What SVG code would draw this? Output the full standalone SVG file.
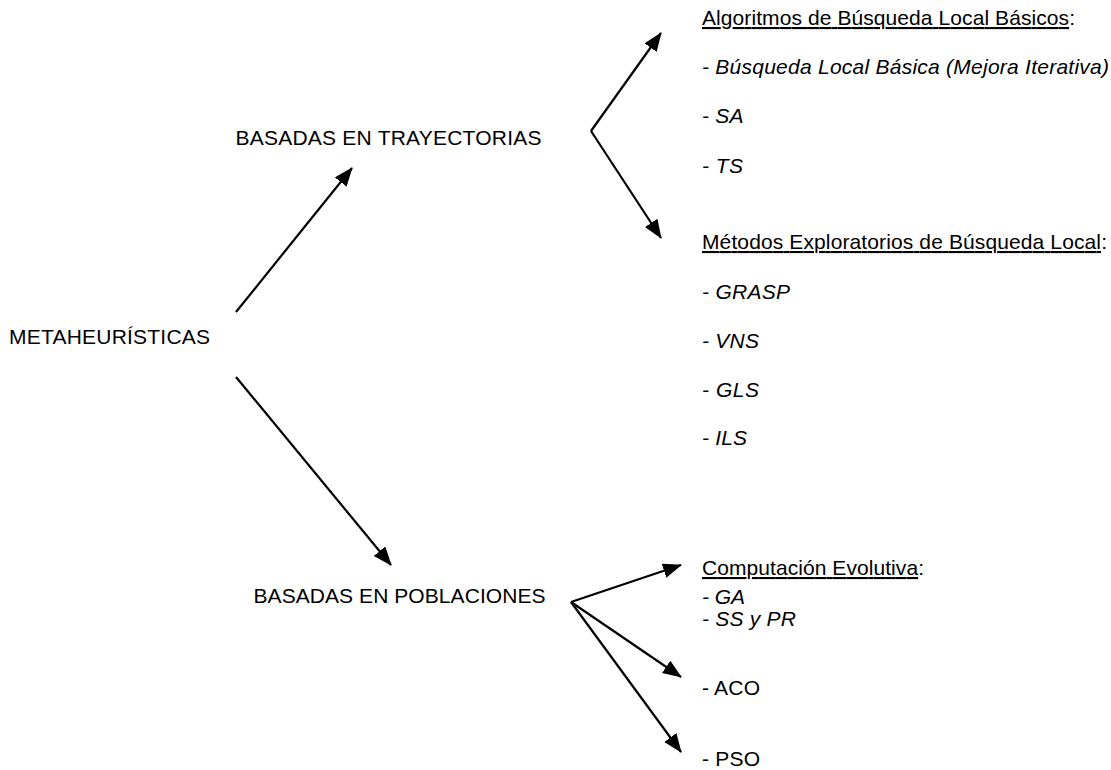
<svg xmlns="http://www.w3.org/2000/svg" width="1111" height="770" viewBox="0 0 1111 770">
<style>
text{font-family:"Liberation Sans",Arial,sans-serif;font-size:21px;fill:#000}
.i{font-style:italic}
.u{text-decoration:underline}
.c{stroke:#000;stroke-width:2.2;fill:none;marker-end:url(#ah)}
</style>
<defs>
<marker id="ah" markerUnits="userSpaceOnUse" markerWidth="20" markerHeight="16" refX="18" refY="7.5" orient="auto">
<path d="M0,0 L19,7.5 L0,15 z" fill="#000"/>
</marker>
</defs>
<rect width="1111" height="770" fill="#fff"/>
<g id="connectors">
<line class="c" x1="236" y1="312" x2="352" y2="168"/>
<line class="c" x1="236" y1="377" x2="391" y2="565"/>
<line class="c" x1="591" y1="131" x2="661" y2="33"/>
<line class="c" x1="591" y1="131" x2="661" y2="238"/>
<line class="c" x1="571" y1="602" x2="681" y2="565"/>
<line class="c" x1="571" y1="602" x2="681" y2="677"/>
<line class="c" x1="571" y1="602" x2="681" y2="752"/>
</g>
<g id="metaheuristicas"><text x="9" y="344" textLength="201" lengthAdjust="spacing">METAHEURÍSTICAS</text></g>
<g id="trayectorias"><text x="235.5" y="145" textLength="306" lengthAdjust="spacing">BASADAS EN TRAYECTORIAS</text></g>
<g id="poblaciones"><text x="253.5" y="603" textLength="292" lengthAdjust="spacing">BASADAS EN POBLACIONES</text></g>
<g id="busqueda-local-basicos">
<text x="702" y="25" textLength="373" lengthAdjust="spacing"><tspan class="u">Algoritmos de Búsqueda Local Básicos</tspan>:</text>
<text class="i" x="702" y="74" textLength="407" lengthAdjust="spacing">- Búsqueda Local Básica (Mejora Iterativa)</text>
<text class="i" x="702" y="123" textLength="41.5" lengthAdjust="spacing">- SA</text>
<text class="i" x="702" y="173" textLength="41" lengthAdjust="spacing">- TS</text>
</g>
<g id="metodos-exploratorios">
<text x="702" y="249" textLength="405" lengthAdjust="spacing"><tspan class="u">Métodos Exploratorios de Búsqueda Local</tspan>:</text>
<text class="i" x="702" y="299" textLength="88" lengthAdjust="spacing">- GRASP</text>
<text class="i" x="702" y="348" textLength="57" lengthAdjust="spacing">- VNS</text>
<text class="i" x="702" y="397" textLength="57" lengthAdjust="spacing">- GLS</text>
<text class="i" x="702" y="445" textLength="45" lengthAdjust="spacing">- ILS</text>
</g>
<g id="computacion-evolutiva">
<text x="702" y="575" textLength="222" lengthAdjust="spacing"><tspan class="u">Computación Evolutiva</tspan>:</text>
<text class="i" x="702" y="604" textLength="43" lengthAdjust="spacing">- GA</text>
<text class="i" x="702" y="626" textLength="94" lengthAdjust="spacing">- SS y PR</text>
</g>
<g id="aco"><text x="702" y="695" textLength="58" lengthAdjust="spacing">- ACO</text></g>
<g id="pso"><text x="702" y="766" textLength="58" lengthAdjust="spacing">- PSO</text></g>
</svg>
